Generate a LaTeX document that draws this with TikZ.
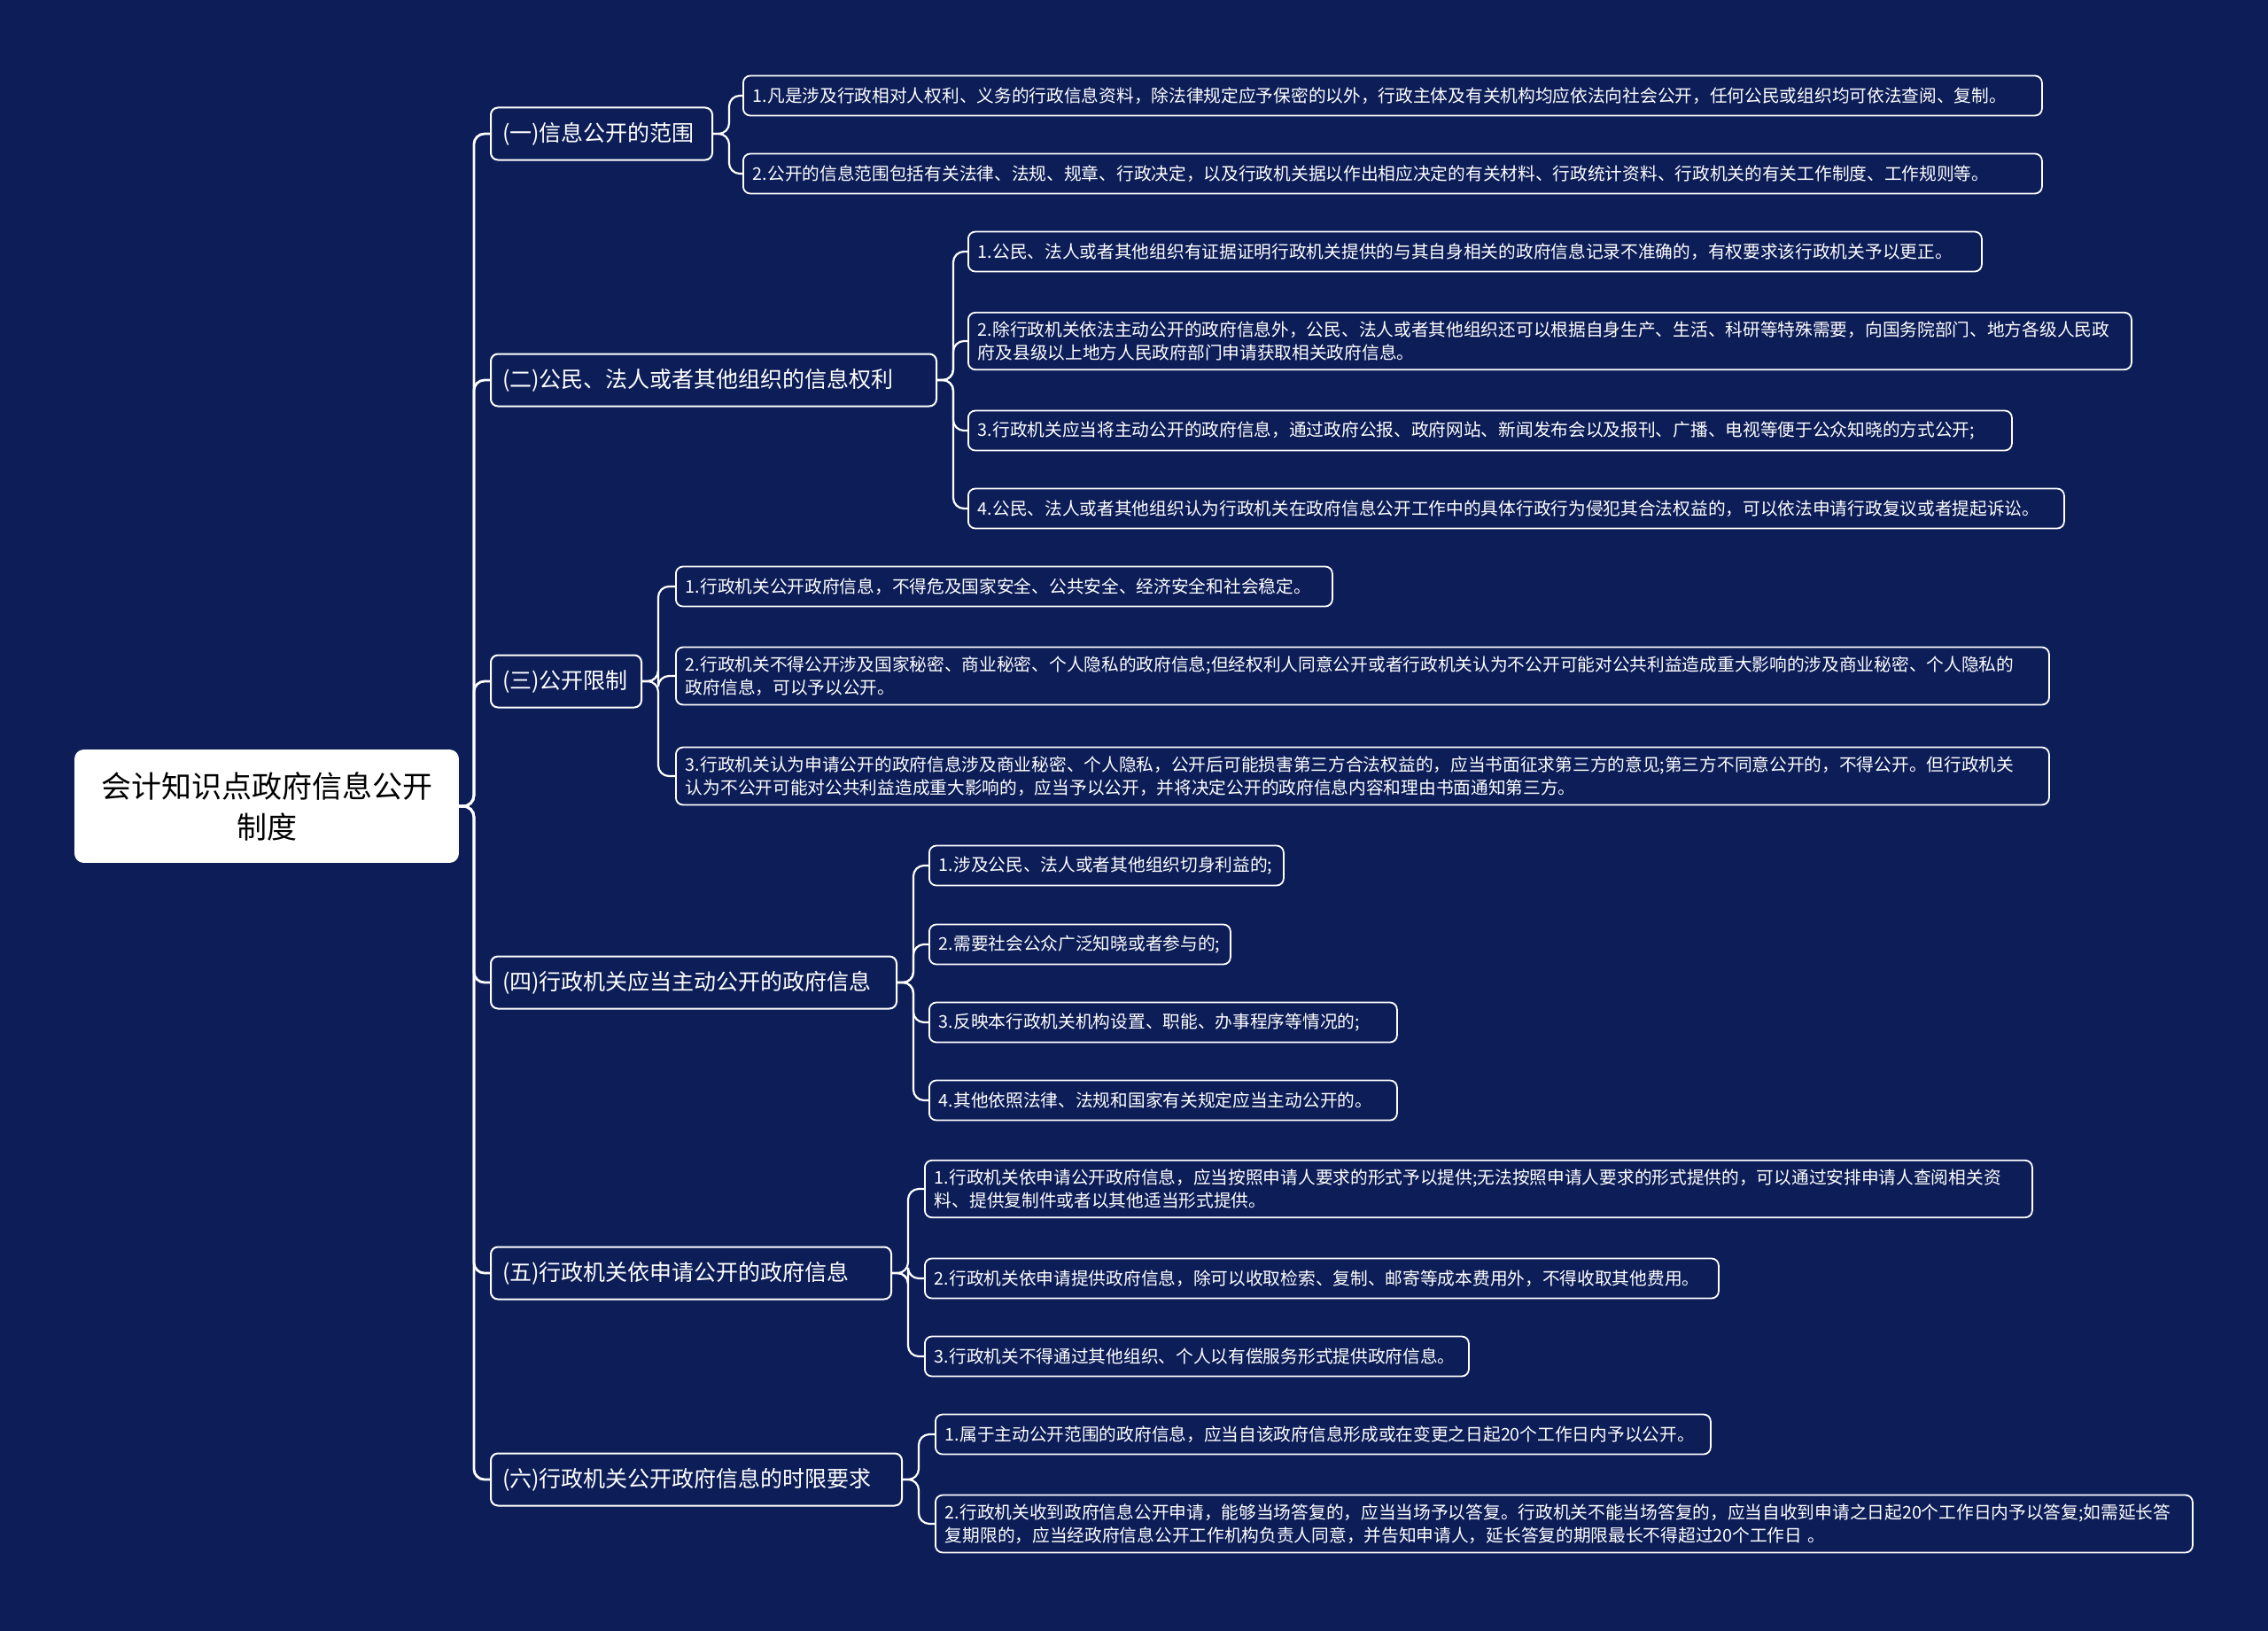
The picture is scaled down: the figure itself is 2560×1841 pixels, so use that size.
\documentclass[tikz,border=0pt]{standalone}
\usepackage{fontspec}
\usepackage{tikz}
\usetikzlibrary{positioning, calc}
\newfontfamily\cjk{Noto Sans CJK SC}
\definecolor{mapnavy}{RGB}{12, 29, 88}
\definecolor{mapwhite}{RGB}{255, 255, 255}

\begin{document}
\begin{tikzpicture}[x=0.5pt, y=-0.5pt,
        rootbox/.style={draw=mapwhite, fill=mapwhite, rounded corners=5pt, text=black, align=center,
            font=\cjk\fontsize{17}{23}\selectfont, minimum width=216.5pt, minimum height=63.5pt},
        secbox/.style={draw=mapwhite, line width=1pt, fill=mapnavy, rounded corners=4pt, text=mapwhite, anchor=west,
            align=left, font=\cjk\fontsize{12.5}{15}\selectfont, inner xsep=6.5pt, minimum height=29.5pt},
        leafbox/.style={draw=mapwhite, line width=0.9pt, fill=mapnavy, rounded corners=4pt, text=mapwhite, anchor=west,
            align=left, font=\cjk\fontsize{9.85}{13}\selectfont, inner xsep=5.5pt, inner ysep=5pt, minimum height=22.5pt},
        link/.style={draw=mapwhite, line width=1.4pt, rounded corners=6pt},
        leaflink/.style={draw=mapwhite, line width=1.1pt, rounded corners=6pt}]

        % background
        \fill[mapnavy] (0,0) rectangle (2560,1841);

        \node[rootbox] (root) at (301,910) {会计知识点政府信息公开\\制度};

        % (一)
        \node[secbox, text width=112pt] (sec1) at (553,151) {(一)信息公开的范围};
        \node[leafbox, text width=722pt] (sec1a) at (838,108) {1.凡是涉及行政相对人权利、义务的行政信息资料，除法律规定应予保密的以外，行政主体及有关机构均应依法向社会公开，任何公民或组织均可依法查阅、复制。};
        \node[leafbox, text width=722pt] (sec1b) at (838,196) {2.公开的信息范围包括有关法律、法规、规章、行政决定，以及行政机关据以作出相应决定的有关材料、行政统计资料、行政机关的有关工作制度、工作规则等。};

        % (二)
        \node[secbox, text width=238.5pt] (sec2) at (553,429) {(二)公民、法人或者其他组织的信息权利};
        \node[leafbox, text width=561pt] (sec2a) at (1092,284) {1.公民、法人或者其他组织有证据证明行政机关提供的与其自身相关的政府信息记录不准确的，有权要求该行政机关予以更正。};
        \node[leafbox, text width=645.5pt] (sec2b) at (1092,385) {2.除行政机关依法主动公开的政府信息外，公民、法人或者其他组织还可以根据自身生产、生活、科研等特殊需要，向国务院部门、地方各级人民政\\府及县级以上地方人民政府部门申请获取相关政府信息。};
        \node[leafbox, text width=578pt] (sec2c) at (1092,486) {3.行政机关应当将主动公开的政府信息，通过政府公报、政府网站、新闻发布会以及报刊、广播、电视等便于公众知晓的方式公开;};
        \node[leafbox, text width=607.5pt] (sec2d) at (1092,574) {4.公民、法人或者其他组织认为行政机关在政府信息公开工作中的具体行政行为侵犯其合法权益的，可以依法申请行政复议或者提起诉讼。};

        % (三)
        \node[secbox, text width=72pt] (sec3) at (553,769) {(三)公开限制};
        \node[leafbox, text width=359.5pt] (sec3a) at (762,662) {1.行政机关公开政府信息，不得危及国家安全、公共安全、经济安全和社会稳定。};
        \node[leafbox, text width=764pt] (sec3b) at (762,763) {2.行政机关不得公开涉及国家秘密、商业秘密、个人隐私的政府信息;但经权利人同意公开或者行政机关认为不公开可能对公共利益造成重大影响的涉及商业秘密、个人隐私的\\政府信息，可以予以公开。};
        \node[leafbox, text width=764pt] (sec3c) at (762,876) {3.行政机关认为申请公开的政府信息涉及商业秘密、个人隐私，公开后可能损害第三方合法权益的，应当书面征求第三方的意见;第三方不同意公开的，不得公开。但行政机关\\认为不公开可能对公共利益造成重大影响的，应当予以公开，并将决定公开的政府信息内容和理由书面通知第三方。};

        % (四)
        \node[secbox, text width=216pt] (sec4) at (553,1109) {(四)行政机关应当主动公开的政府信息};
        \node[leafbox, text width=189pt] (sec4a) at (1048,977) {1.涉及公民、法人或者其他组织切身利益的;};
        \node[leafbox, text width=159pt] (sec4b) at (1048,1066) {2.需要社会公众广泛知晓或者参与的;};
        \node[leafbox, text width=253pt] (sec4c) at (1048,1154) {3.反映本行政机关机构设置、职能、办事程序等情况的;};
        \node[leafbox, text width=253pt] (sec4d) at (1048,1242) {4.其他依照法律、法规和国家有关规定应当主动公开的。};

        % (五)
        \node[secbox, text width=213pt] (sec5) at (553,1437) {(五)行政机关依申请公开的政府信息};
        \node[leafbox, text width=614pt] (sec5a) at (1043,1342) {1.行政机关依申请公开政府信息，应当按照申请人要求的形式予以提供;无法按照申请人要求的形式提供的，可以通过安排申请人查阅相关资\\料、提供复制件或者以其他适当形式提供。};
        \node[leafbox, text width=437pt] (sec5b) at (1043,1443) {2.行政机关依申请提供政府信息，除可以收取检索、复制、邮寄等成本费用外，不得收取其他费用。};
        \node[leafbox, text width=296pt] (sec5c) at (1043,1531) {3.行政机关不得通过其他组织、个人以有偿服务形式提供政府信息。};

        % (六)
        \node[secbox, text width=219pt] (sec6) at (553,1670) {(六)行政机关公开政府信息的时限要求};
        \node[leafbox, text width=426.5pt] (sec6a) at (1055,1619) {1.属于主动公开范围的政府信息，应当自该政府信息形成或在变更之日起20个工作日内予以公开。};
        \node[leafbox, text width=698.5pt] (sec6b) at (1055,1720) {2.行政机关收到政府信息公开申请，能够当场答复的，应当当场予以答复。行政机关不能当场答复的，应当自收到申请之日起20个工作日内予以答复;如需延长答\\复期限的，应当经政府信息公开工作机构负责人同意，并告知申请人，延长答复的期限最长不得超过20个工作日 。};

        % trunk
        \draw[link] (root.east) -- ++(17,0) |- (sec1.west);
        \draw[link] (root.east) -- ++(17,0) |- (sec2.west);
        \draw[link] (root.east) -- ++(17,0) |- (sec3.west);
        \draw[link] (root.east) -- ++(17,0) |- (sec4.west);
        \draw[link] (root.east) -- ++(17,0) |- (sec5.west);
        \draw[link] (root.east) -- ++(17,0) |- (sec6.west);

        % branches
        \draw[leaflink] (sec1.east) -- ++(18,0) |- (sec1a.west);
        \draw[leaflink] (sec1.east) -- ++(18,0) |- (sec1b.west);
        \draw[leaflink] (sec2.east) -- ++(18,0) |- (sec2a.west);
        \draw[leaflink] (sec2.east) -- ++(18,0) |- (sec2b.west);
        \draw[leaflink] (sec2.east) -- ++(18,0) |- (sec2c.west);
        \draw[leaflink] (sec2.east) -- ++(18,0) |- (sec2d.west);
        \draw[leaflink] (sec3.east) -- ++(18,0) |- (sec3a.west);
        \draw[leaflink] (sec3.east) -- ++(18,0) |- (sec3b.west);
        \draw[leaflink] (sec3.east) -- ++(18,0) |- (sec3c.west);
        \draw[leaflink] (sec4.east) -- ++(18,0) |- (sec4a.west);
        \draw[leaflink] (sec4.east) -- ++(18,0) |- (sec4b.west);
        \draw[leaflink] (sec4.east) -- ++(18,0) |- (sec4c.west);
        \draw[leaflink] (sec4.east) -- ++(18,0) |- (sec4d.west);
        \draw[leaflink] (sec5.east) -- ++(18,0) |- (sec5a.west);
        \draw[leaflink] (sec5.east) -- ++(18,0) |- (sec5b.west);
        \draw[leaflink] (sec5.east) -- ++(18,0) |- (sec5c.west);
        \draw[leaflink] (sec6.east) -- ++(18,0) |- (sec6a.west);
        \draw[leaflink] (sec6.east) -- ++(18,0) |- (sec6b.west);
\end{tikzpicture}
\end{document}
